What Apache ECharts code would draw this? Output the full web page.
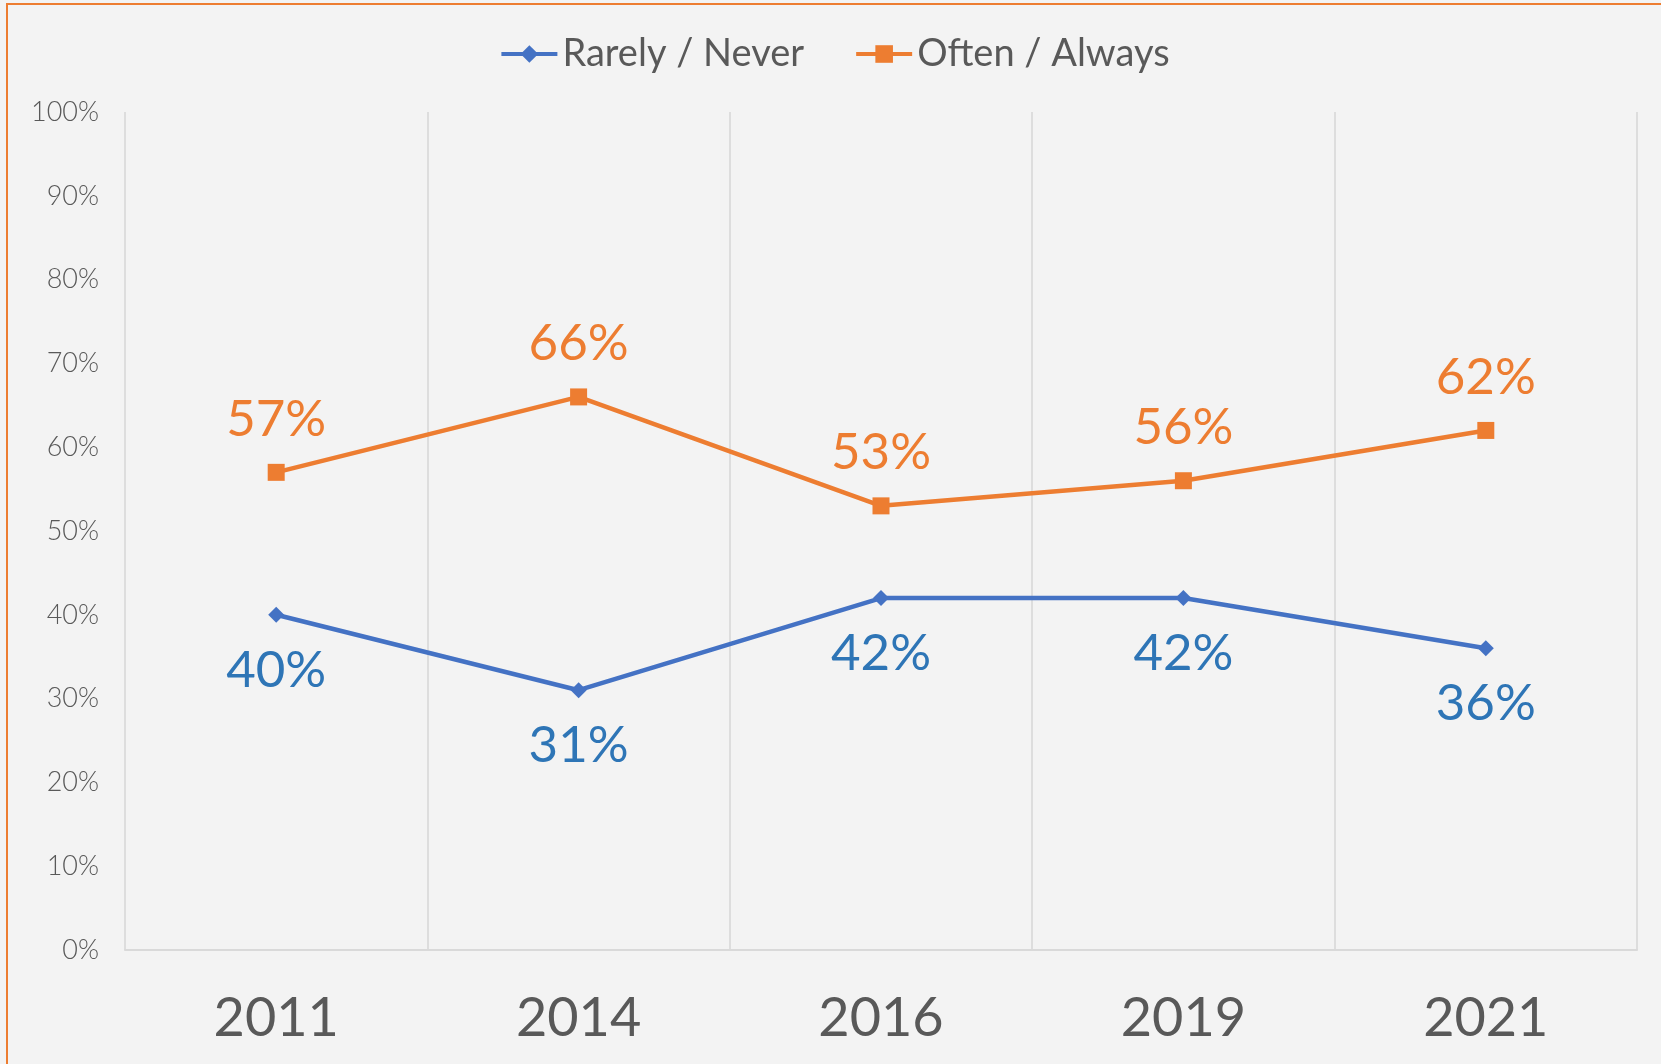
<!DOCTYPE html>
<html>
<head>
<meta charset="utf-8">
<title>Rarely / Never vs Often / Always</title>
<script src="https://cdn.jsdelivr.net/npm/echarts@6/dist/echarts.min.js"></script>
<style>
  html, body { margin: 0; padding: 0; background: #f3f3f3; }
  #frame {
    position: absolute; left: 6px; top: 3px; right: 0; bottom: 0;
    border-top: 2px solid #ed7d31; border-left: 2px solid #ed7d31;
    background: #f3f3f3;
  }
  #chart { width: 100%; height: 100%; }
</style>
</head>
<body>
<div id="frame"><div id="chart"></div></div>
<script>
  // ── Data ───────────────────────────────────────
  var years       = ['2011', '2014', '2016', '2019', '2021'];
  var rarelyNever = [40, 31, 42, 42, 36];
  var oftenAlways = [57, 66, 53, 56, 62];

  var FONT = 'Lato, "Noto Sans", sans-serif';
  var BLUE = '#4472c4', BLUE_TXT = '#2e75b6', ORANGE = '#ed7d31', GREY = '#595959';

  var chart = echarts.init(document.getElementById('chart'));

  chart.setOption({
    backgroundColor: 'transparent',
    animation: false,
    legend: {
      top: 25,
      left: 'center',
      itemWidth: 56,
      itemHeight: 22,
      itemGap: 50,
      lineStyle: { width: 4 },
      textStyle: { fontFamily: FONT, fontSize: 38, color: GREY },
      data: ['Rarely / Never', 'Often / Always']
    },
    grid: { left: 117, right: 24, top: 107, bottom: 114 },
    xAxis: {
      type: 'category',
      data: years,
      boundaryGap: true,
      axisLine: { lineStyle: { color: '#d9d9d9', width: 2 } },
      axisTick: { show: false },
      splitLine: { show: true, interval: 0, lineStyle: { color: '#d6d6d6', width: 1.5 } },
      axisLabel: { fontFamily: FONT, fontSize: 54, color: GREY, margin: 42 }
    },
    yAxis: {
      type: 'value',
      min: 0, max: 100, interval: 10,
      axisLine: { show: false },
      axisTick: { show: false },
      splitLine: { show: false },
      axisLabel: {
        fontFamily: FONT, fontSize: 27, fontWeight: 300, color: GREY, margin: 26,
        formatter: '{value}%'
      }
    },
    series: [
      {
        name: 'Rarely / Never',
        type: 'line',
        data: rarelyNever,
        symbol: 'diamond',
        symbolSize: 16,
        lineStyle: { color: BLUE, width: 4.5 },
        itemStyle: { color: BLUE },
        label: {
          show: true, position: 'bottom', distance: 22,
          formatter: '{c}%',
          fontFamily: FONT, fontSize: 51, color: BLUE_TXT
        }
      },
      {
        name: 'Often / Always',
        type: 'line',
        data: oftenAlways,
        symbol: 'rect',
        symbolSize: 17,
        lineStyle: { color: ORANGE, width: 4.5 },
        itemStyle: { color: ORANGE },
        label: {
          show: true, position: 'top', distance: 19,
          formatter: '{c}%',
          fontFamily: FONT, fontSize: 51, color: ORANGE
        }
      }
    ]
  });

  window.addEventListener('resize', function () { chart.resize(); });
</script>
</body>
</html>
